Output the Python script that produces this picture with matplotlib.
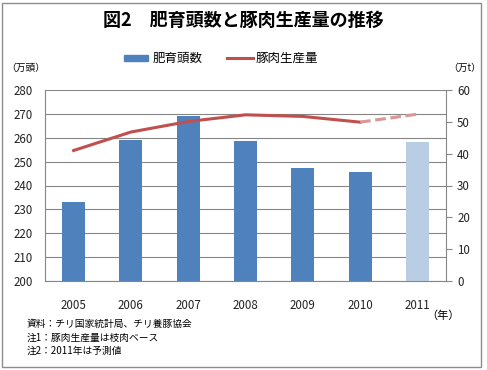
import matplotlib
matplotlib.use('Agg')
import matplotlib.pyplot as plt
from matplotlib.patches import Rectangle
import numpy as np

plt.rcParams['font.family'] = ['Noto Sans CJK JP', 'DejaVu Sans']

# data
years = ['2005', '2006', '2007', '2008', '2009', '2010', '2011']
heads = [233, 259, 269, 258.7, 247.5, 245.8, 258.3]      # 万頭
pork = [41.0, 46.8, 50.1, 52.2, 51.7, 49.9, 52.4]         # 万t
forecast = [False, False, False, False, False, False, True]

bar_col = '#4F81BD'
bar_col_fc = '#B9CDE5'
line_col = '#C0504D'
line_col_fc = '#D99694'
grid_col = '#868686'

fig = plt.figure(figsize=(4.87, 3.70), dpi=100)
ax = fig.add_axes([45 / 487, 89 / 370, 401 / 487, 191 / 370])

x = np.arange(len(years))
colors = [bar_col_fc if f else bar_col for f in forecast]
ax.bar(x, np.array(heads) - 200, bottom=200, width=0.4, color=colors, zorder=2)
ax.set_xlim(-0.5, len(years) - 0.5)
ax.set_ylim(200, 280)
ax.set_yticks(range(200, 281, 10))
ax.yaxis.grid(True, color=grid_col, linewidth=0.8, zorder=0)
ax.set_axisbelow(True)
ax.tick_params(axis='y', length=0, pad=9, labelsize=8.3, colors='#222222')
ax.set_xticks(x)
ax.set_xticklabels(years)
ax.tick_params(axis='x', length=0, pad=13, labelsize=8.3, colors='#222222')
for s in ['top', 'right']:
    ax.spines[s].set_visible(False)
ax.spines['left'].set_color(grid_col)
ax.spines['bottom'].set_color(grid_col)

ax2 = ax.twinx()
n_act = forecast.index(True)
ax2.plot(x[:n_act], pork[:n_act], color=line_col, linewidth=2.2, zorder=3)
ax2.plot(x[n_act - 1:], pork[n_act - 1:], color=line_col_fc, linewidth=2.2,
         linestyle=(0, (3.5, 1.5)), zorder=3)
ax2.set_ylim(0, 60)
ax2.set_yticks(range(0, 61, 10))
ax2.tick_params(axis='y', length=4, pad=4, labelsize=8.3, colors='#222222',
                color=grid_col)
for s in ['top', 'left', 'bottom']:
    ax2.spines[s].set_visible(False)
ax2.spines['right'].set_color(grid_col)

# title, legend, unit labels
fig.text(0.5, 1 - 20 / 370, '図2\u3000肥育頭数と豚肉生産量の推移', ha='center', va='center',
         fontsize=13, fontweight='bold')
fig.patches.append(Rectangle((124 / 487, 1 - 61 / 370), 24 / 487, 6 / 370,
                             transform=fig.transFigure, color=bar_col))
fig.text(153 / 487, 1 - 58 / 370, '肥育頭数', va='center', fontsize=9)
fig.lines.append(plt.Line2D([227 / 487, 253 / 487], [1 - 58 / 370, 1 - 58 / 370],
                            transform=fig.transFigure, color=line_col, linewidth=2.2))
fig.text(256 / 487, 1 - 58 / 370, '豚肉生産量', va='center', fontsize=9)
fig.text(6 / 487, 1 - 68 / 370, '（万頭）', va='center', fontsize=7)
fig.text(448 / 487, 1 - 68 / 370, '（万t）', va='center', fontsize=7)
fig.text(426 / 487, 1 - 316 / 370, '（年）', va='center', fontsize=8)

notes = ['資料：チリ国家統計局、チリ養豚協会', '注1：豚肉生産量は枝肉ベース', '注2：2011年は予測値']
for i, t in enumerate(notes):
    fig.text(27 / 487, 1 - (324 + i * 13.5) / 370, t, va='center', fontsize=7)

fig.patches.append(Rectangle((2 / 487, 3 / 370), 479 / 487, 364 / 370,
                             transform=fig.transFigure, fill=False,
                             edgecolor='#8c8c8c', linewidth=1))

fig.savefig('out.png', dpi=100)
